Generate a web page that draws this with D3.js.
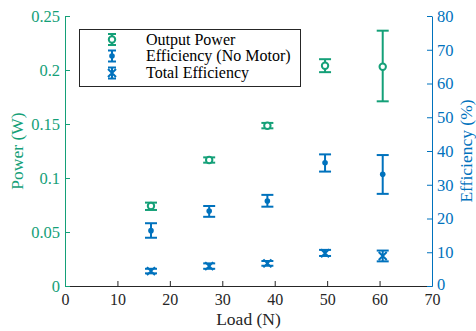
<!DOCTYPE html>
<html>
<head>
<meta charset="utf-8">
<script src="https://cdn.jsdelivr.net/npm/d3@7"></script>
<style>
  html, body { margin: 0; padding: 0; background: #fff; }
  svg { display: block; }
</style>
</head>
<body>
<svg id="chart" width="476" height="331"></svg>
<script>
// ---- Data ----
const loads = [16.4, 27.5, 38.6, 49.6, 60.6];

const powerMean = [0.0741, 0.1167, 0.1484, 0.204, 0.203];
const powerLow  = [0.0704, 0.1142, 0.146, 0.198, 0.171];
const powerHigh = [0.0772, 0.1191, 0.151, 0.210, 0.2364];

const effNoMotorMean = [16.4, 22.2, 25.2, 36.5, 33.1];
const effNoMotorLow  = [14.3, 20.5, 23.5, 33.9, 27.3];
const effNoMotorHigh = [18.6, 23.7, 27.0, 39.0, 38.8];

const effTotalMean = [4.4, 5.9, 6.7, 9.7, 8.9];
const effTotalLow  = [3.75, 5.1, 6.0, 8.9, 7.3];
const effTotalHigh = [5.1, 6.7, 7.4, 10.7, 10.5];

const xTicks = [0, 10, 20, 30, 40, 50, 60, 70];
const leftTicks = [0, 0.05, 0.1, 0.15, 0.2, 0.25];
const rightTicks = [0, 10, 20, 30, 40, 50, 60, 70, 80];
const legendLabels = ["Output Power", "Efficiency (No Motor)", "Total Efficiency"];

// ---- Layout ----
const W = 476, H = 331;
const m = { left: 65, right: 44, top: 16, bottom: 45 };
const green = "#14a078";
const blue = "#0072bd";
const dark = "#262626";
const FONT = "'Liberation Serif', 'DejaVu Serif', serif";

const svg = d3.select("#chart");
const x = d3.scaleLinear().domain([0, 70]).range([m.left, W - m.right]);
const yL = d3.scaleLinear().domain([0, 0.25]).range([H - m.bottom, m.top]);
const yR = d3.scaleLinear().domain([0, 80]).range([H - m.bottom, m.top]);

function styleText(sel, color, size) {
  sel.attr("fill", color).style("font-family", FONT).style("font-size", size + "px");
}

// Axes
const xAxis = svg.append("g").attr("transform", `translate(0,${H - m.bottom})`)
  .call(d3.axisBottom(x).tickValues(xTicks).tickSizeInner(-5).tickSizeOuter(0).tickPadding(8).tickFormat(d3.format("d")));
xAxis.attr("font-family", null);
xAxis.select(".domain").attr("stroke", dark).attr("stroke-width", 1);
xAxis.selectAll(".tick line").attr("stroke", dark);
styleText(xAxis.selectAll("text"), dark, 16);

const lAxis = svg.append("g").attr("transform", `translate(${m.left},0)`)
  .call(d3.axisLeft(yL).tickValues(leftTicks).tickSizeInner(-5).tickSizeOuter(0).tickPadding(5).tickFormat(d => d === 0 ? "0" : String(d)));
lAxis.attr("font-family", null);
lAxis.select(".domain").attr("stroke", green).attr("stroke-width", 1);
lAxis.selectAll(".tick line").attr("stroke", green);
styleText(lAxis.selectAll("text"), green, 16.5);

const rAxis = svg.append("g").attr("transform", `translate(${W - m.right},0)`)
  .call(d3.axisRight(yR).tickValues(rightTicks).tickSizeInner(-5).tickSizeOuter(0).tickPadding(5).tickFormat(d3.format("d")));
rAxis.attr("font-family", null);
rAxis.select(".domain").attr("stroke", blue).attr("stroke-width", 1);
rAxis.selectAll(".tick line").attr("stroke", blue);
styleText(rAxis.selectAll("text"), blue, 16.5);
rAxis.selectAll(".tick").filter(d => d === 0).select("text").attr("dy", "0.2em");

// Axis labels
styleText(svg.append("text").attr("x", x(35)).attr("y", 325).attr("text-anchor", "middle")
  .text("Load (N)"), dark, 17.5);
styleText(svg.append("text").attr("transform", `translate(23,${(m.top + H - m.bottom) / 2}) rotate(-90)`)
  .attr("text-anchor", "middle").text("Power (W)"), green, 17.5);
styleText(svg.append("text").attr("transform", `translate(472,${(m.top + H - m.bottom) / 2}) rotate(-90)`)
  .attr("text-anchor", "middle").text("Efficiency (%)"), blue, 17.5);

// Error bar helper
const capW = 6;
function errorBars(g, color, xs, ys, lo, hi) {
  const d = xs.map((v, i) => ({ x: v, y: ys[i], lo: lo[i], hi: hi[i] }));
  const eg = g.append("g").attr("stroke", color).attr("stroke-width", 2).attr("fill", "none");
  eg.selectAll(".v").data(d).join("line")
    .attr("x1", p => x(p.x)).attr("x2", p => x(p.x))
    .attr("y1", p => p.lo).attr("y2", p => p.hi);
  eg.selectAll(".c1").data(d).join("line")
    .attr("x1", p => x(p.x) - capW).attr("x2", p => x(p.x) + capW)
    .attr("y1", p => p.lo).attr("y2", p => p.lo);
  eg.selectAll(".c2").data(d).join("line")
    .attr("x1", p => x(p.x) - capW).attr("x2", p => x(p.x) + capW)
    .attr("y1", p => p.hi).attr("y2", p => p.hi);
  return d;
}

function circleMarker(g, cx, cy, color) {
  g.append("circle").attr("cx", cx).attr("cy", cy).attr("r", 3.2)
    .attr("fill", "#fff").attr("stroke", color).attr("stroke-width", 2);
}
function dotMarker(g, cx, cy, color) {
  g.append("circle").attr("cx", cx).attr("cy", cy).attr("r", 2.8).attr("fill", color);
}
function xMarker(g, cx, cy, color) {
  const s = 4;
  g.append("path").attr("d", `M${cx - s},${cy - s}L${cx + s},${cy + s}M${cx - s},${cy + s}L${cx + s},${cy - s}`)
    .attr("stroke", color).attr("stroke-width", 2).attr("fill", "none");
}

const plot = svg.append("g");

// Output Power (left axis)
errorBars(plot, green, loads,
  powerMean.map(yL), powerLow.map(yL), powerHigh.map(yL));
loads.forEach((v, i) => circleMarker(plot, x(v), yL(powerMean[i]), green));

// Efficiency (No Motor) (right axis)
errorBars(plot, blue, loads,
  effNoMotorMean.map(yR), effNoMotorLow.map(yR), effNoMotorHigh.map(yR));
loads.forEach((v, i) => dotMarker(plot, x(v), yR(effNoMotorMean[i]), blue));

// Total Efficiency (right axis)
errorBars(plot, blue, loads,
  effTotalMean.map(yR), effTotalLow.map(yR), effTotalHigh.map(yR));
loads.forEach((v, i) => xMarker(plot, x(v), yR(effTotalMean[i]), blue));

// Legend
const lg = svg.append("g");
lg.append("rect").attr("x", 79.5).attr("y", 29.5).attr("width", 221).attr("height", 57)
  .attr("fill", "#fff").attr("stroke", dark).attr("stroke-width", 1);
const rowsY = [39.5, 56, 73];
const legendColors = [green, blue, blue];
const symX = 112;
legendLabels.forEach((lab, i) => {
  const cy = rowsY[i];
  const c = legendColors[i];
  const gg = lg.append("g");
  gg.append("line").attr("x1", symX).attr("x2", symX).attr("y1", cy - 5.5).attr("y2", cy + 5.5)
    .attr("stroke", c).attr("stroke-width", 2);
  gg.append("line").attr("x1", symX - 4).attr("x2", symX + 4).attr("y1", cy - 5.5).attr("y2", cy - 5.5)
    .attr("stroke", c).attr("stroke-width", 2);
  gg.append("line").attr("x1", symX - 4).attr("x2", symX + 4).attr("y1", cy + 5.5).attr("y2", cy + 5.5)
    .attr("stroke", c).attr("stroke-width", 2);
  if (i === 0) circleMarker(gg, symX, cy, c);
  else if (i === 1) dotMarker(gg, symX, cy, c);
  else xMarker(gg, symX, cy, c);
  styleText(lg.append("text").attr("x", 146).attr("y", cy).attr("dy", "0.33em").text(lab), "#000", 16);
});
</script>
</body>
</html>
